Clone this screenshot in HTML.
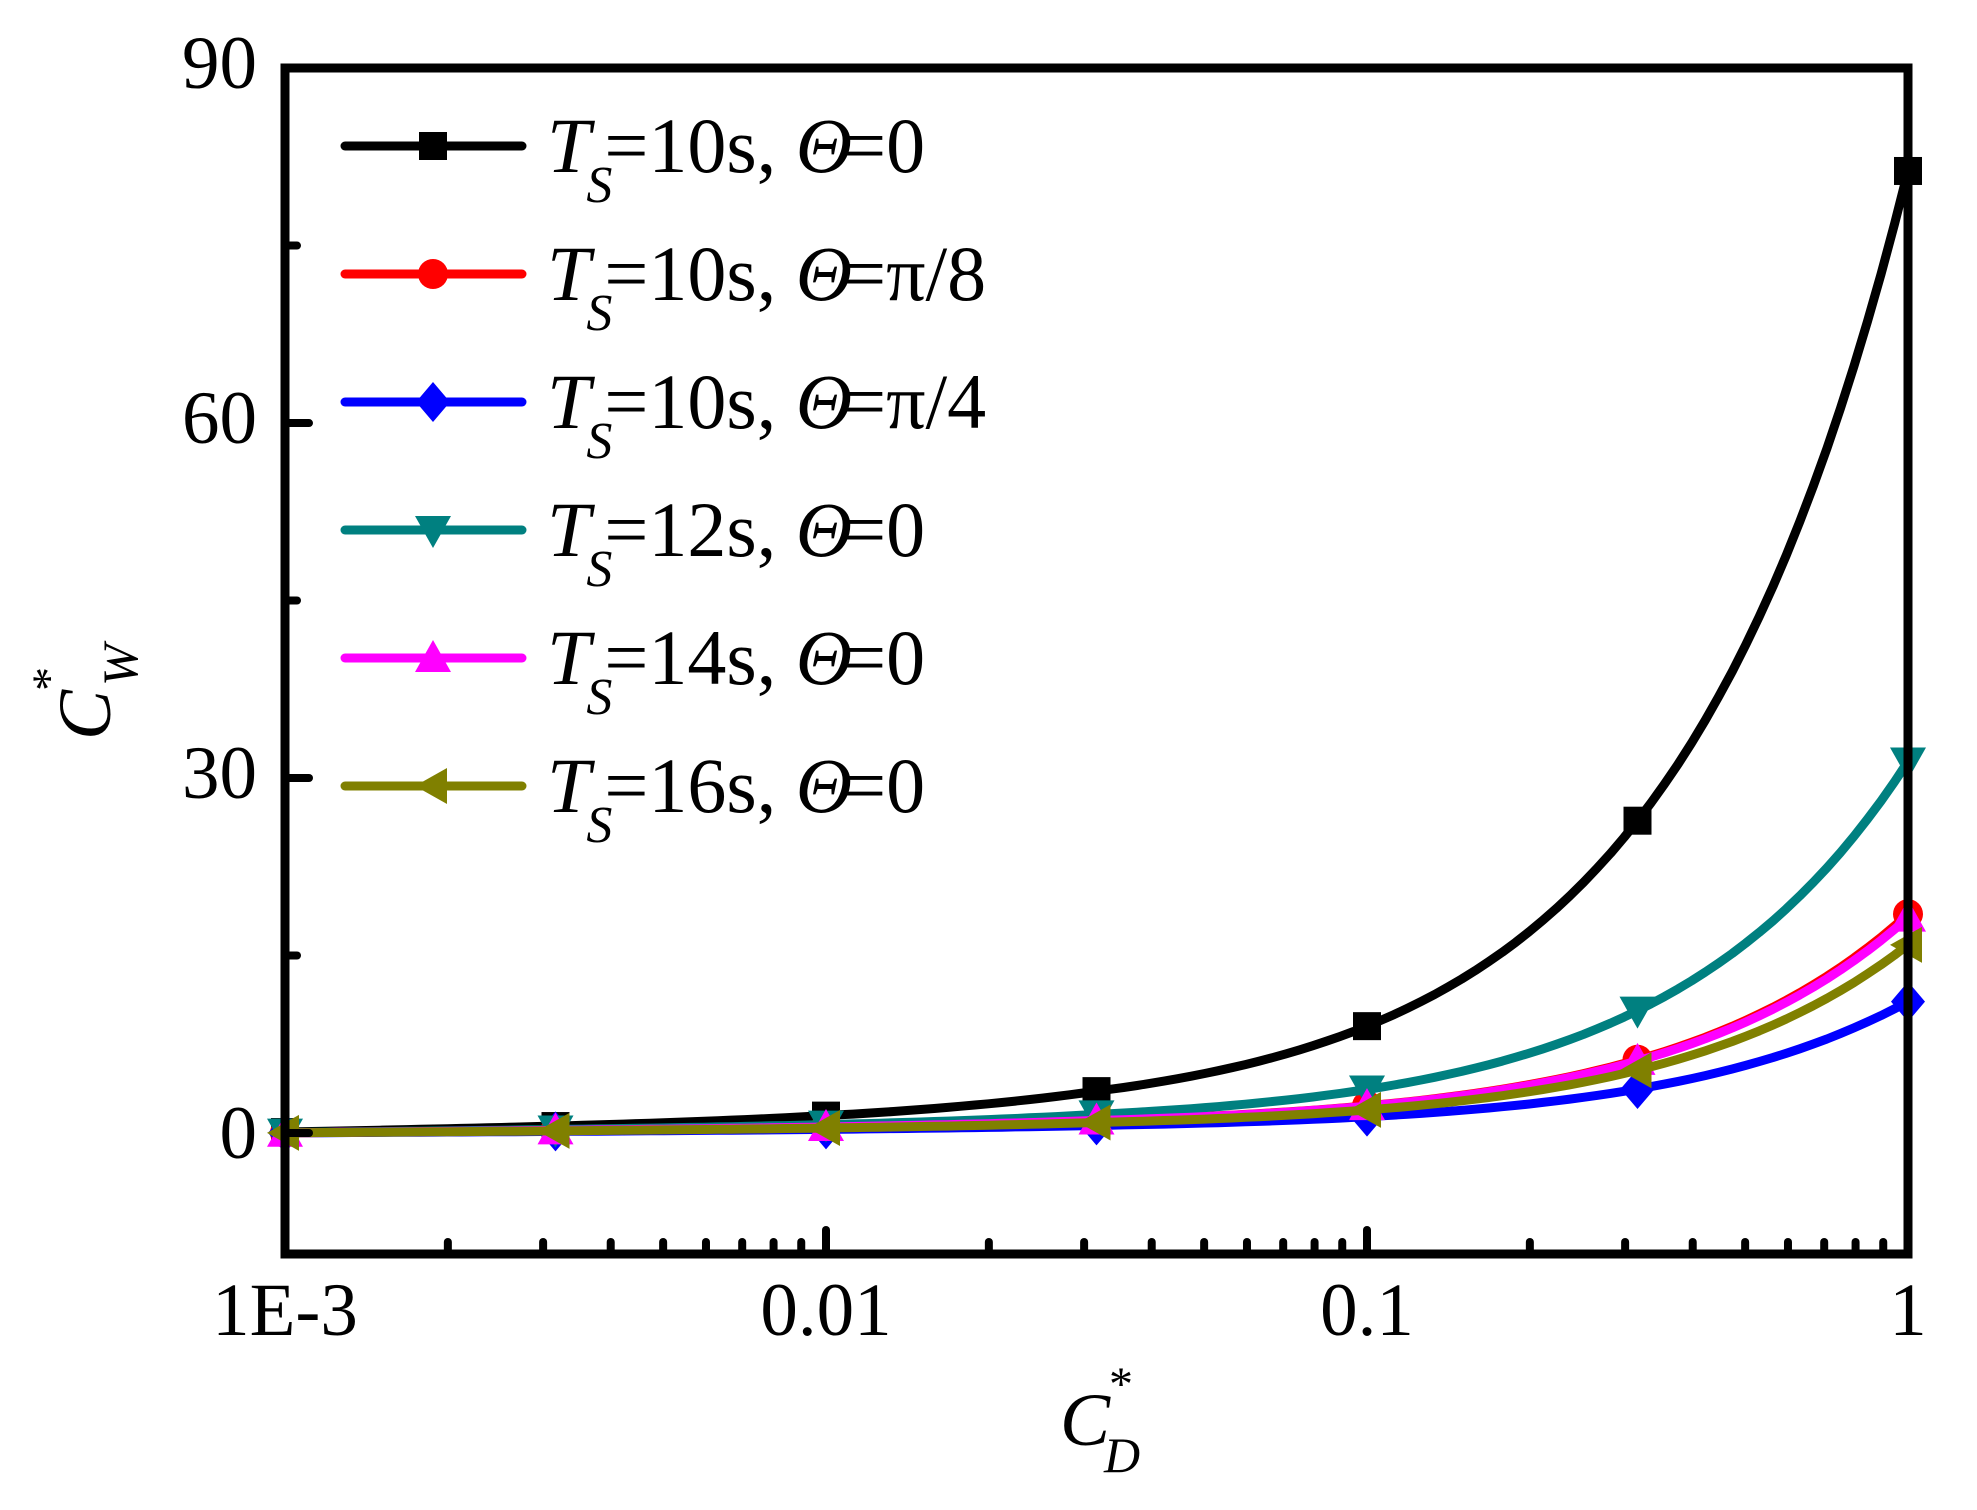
<!DOCTYPE html>
<html><head><meta charset="utf-8"><style>html,body{margin:0;padding:0;background:#fff;}svg{display:block;}svg text{font-family:"Liberation Serif","DejaVu Serif",serif;}</style></head>
<body>
<svg id="s" width="1977" height="1510" xmlns="http://www.w3.org/2000/svg">
<rect width="1977" height="1510" fill="#fff"/>
<g id="plot"></g>
<g id="axes"></g>
<g font-size="75" fill="#000">
<text x="257" y="88" text-anchor="end">90</text>
<text x="257" y="443" text-anchor="end">60</text>
<text x="257" y="798" text-anchor="end">30</text>
<text x="257" y="1158" text-anchor="end">0</text>
<text x="285" y="1335" text-anchor="middle">1E-3</text>
<text x="826" y="1335" text-anchor="middle">0.01</text>
<text x="1367" y="1335" text-anchor="middle">0.1</text>
<text x="1908" y="1335" text-anchor="middle">1</text>
</g>
<g fill="#000" font-style="italic">
<text x="1060" y="1445" font-size="75">C</text>
<text x="1109" y="1400" font-size="48" font-style="normal">*</text>
<text x="1104" y="1472" font-size="50">D</text>
<g transform="translate(110,740) rotate(-90)">
<text x="0" y="0" font-size="75">C</text>
<text x="49" y="-45" font-size="48" font-style="normal">*</text>
<text x="54" y="27" font-size="50">W</text>
</g>
</g>
<g id="legend"></g>
</svg>
<script>
var NS="http://www.w3.org/2000/svg";
function el(p,t,a){var e=document.createElementNS(NS,t);for(var k in a)e.setAttribute(k,a[k]);p.appendChild(e);return e;}
function X(c){return 285+541*(Math.log10(c)+3);}
function Y(v){return 1133-11.833*v;}
var series=[
 {c:"#000000",a:80.3,b:1.0,m:"sq"},
 {c:"#ff0000",a:18.0,b:0.5,m:"ci"},
 {c:"#0000ff",a:10.8,b:0.3,m:"di"},
 {c:"#008080",a:30.8,b:0.6,m:"dt"},
 {c:"#ff00ff",a:17.7,b:0.5,m:"ut"},
 {c:"#808000",a:15.5,b:0.4,m:"lt"}
];
function marker(g,m,x,y,col){
 if(m=="sq")el(g,"rect",{x:x-14,y:y-14,width:28,height:28,fill:col});
 else if(m=="ci")el(g,"circle",{cx:x,cy:y,r:15,fill:col});
 else if(m=="di")el(g,"polygon",{points:(x)+","+(y-20)+" "+(x+17)+","+y+" "+x+","+(y+20)+" "+(x-17)+","+y,fill:col});
 else if(m=="dt")el(g,"polygon",{points:(x-18)+","+(y-14)+" "+(x+18)+","+(y-14)+" "+x+","+(y+18),fill:col});
 else if(m=="ut")el(g,"polygon",{points:(x-18)+","+(y+14)+" "+(x+18)+","+(y+14)+" "+x+","+(y-18),fill:col});
 else if(m=="lt")el(g,"polygon",{points:(x+14)+","+(y-18)+" "+(x+14)+","+(y+18)+" "+(x-18)+","+y,fill:col});
}
function f(s,c){return s.a*c+s.b*Math.min(1,(Math.log10(c)+3)/1.5);}
var plot=document.getElementById("plot");
series.forEach(function(s){
 var pts=[];
 for(var i=0;i<=120;i++){var c=Math.pow(10,-3+i*3/120);pts.push(X(c).toFixed(1)+","+Y(f(s,c)).toFixed(1));}
 el(plot,"polyline",{points:pts.join(" "),fill:"none",stroke:s.c,"stroke-width":9,"stroke-linejoin":"round"});
 for(var k=0;k<=6;k++){var c=Math.pow(10,-3+k/2);marker(plot,s.m,X(c),Y(f(s,c)),s.c);}
});
var ax=document.getElementById("axes");
el(ax,"rect",{x:285,y:68,width:1623,height:1186,fill:"none",stroke:"#000","stroke-width":9});
for(var d=-3;d<0;d++){for(var m=1;m<=9;m++){var x=X(m*Math.pow(10,d));if(m==1&&d==-3)continue;var L=(m==1)?24:12;el(ax,"line",{x1:x,y1:1254,x2:x,y2:1254-L,stroke:"#000","stroke-width":8,"stroke-linecap":"round"});}}
for(var v=0;v<90;v+=15){var y=Y(v);var L=(v%30==0)?24:12;el(ax,"line",{x1:285,y1:y,x2:285+L,y2:y,stroke:"#000","stroke-width":8,"stroke-linecap":"round"});}
var lg=document.getElementById("legend");
var labs=["=10s, ","=10s, ","=10s, ","=12s, ","=14s, ","=16s, "];
var tails=["=0","=π/8","=π/4","=0","=0","=0"];
series.forEach(function(s,i){
 var y=146+128*i;
 el(lg,"line",{x1:345,y1:y,x2:522,y2:y,stroke:s.c,"stroke-width":9,"stroke-linecap":"round"});
 marker(lg,s.m,433,y,s.c);
 var t=el(lg,"text",{x:547,y:y+26,"font-size":78,fill:"#000"});
 var a=el(t,"tspan",{"font-style":"italic"});a.textContent="T";
 var b=el(t,"tspan",{"font-style":"italic","font-size":52,dx:-4,dy:30});b.textContent="S";
 var c=el(t,"tspan",{dx:-8,dy:-30});c.textContent=labs[i];
 var d=el(t,"tspan",{"font-style":"italic"});d.textContent="Θ";
 var e=el(t,"tspan",{dx:-10});e.textContent=tails[i];
});
</script>
</body></html>
